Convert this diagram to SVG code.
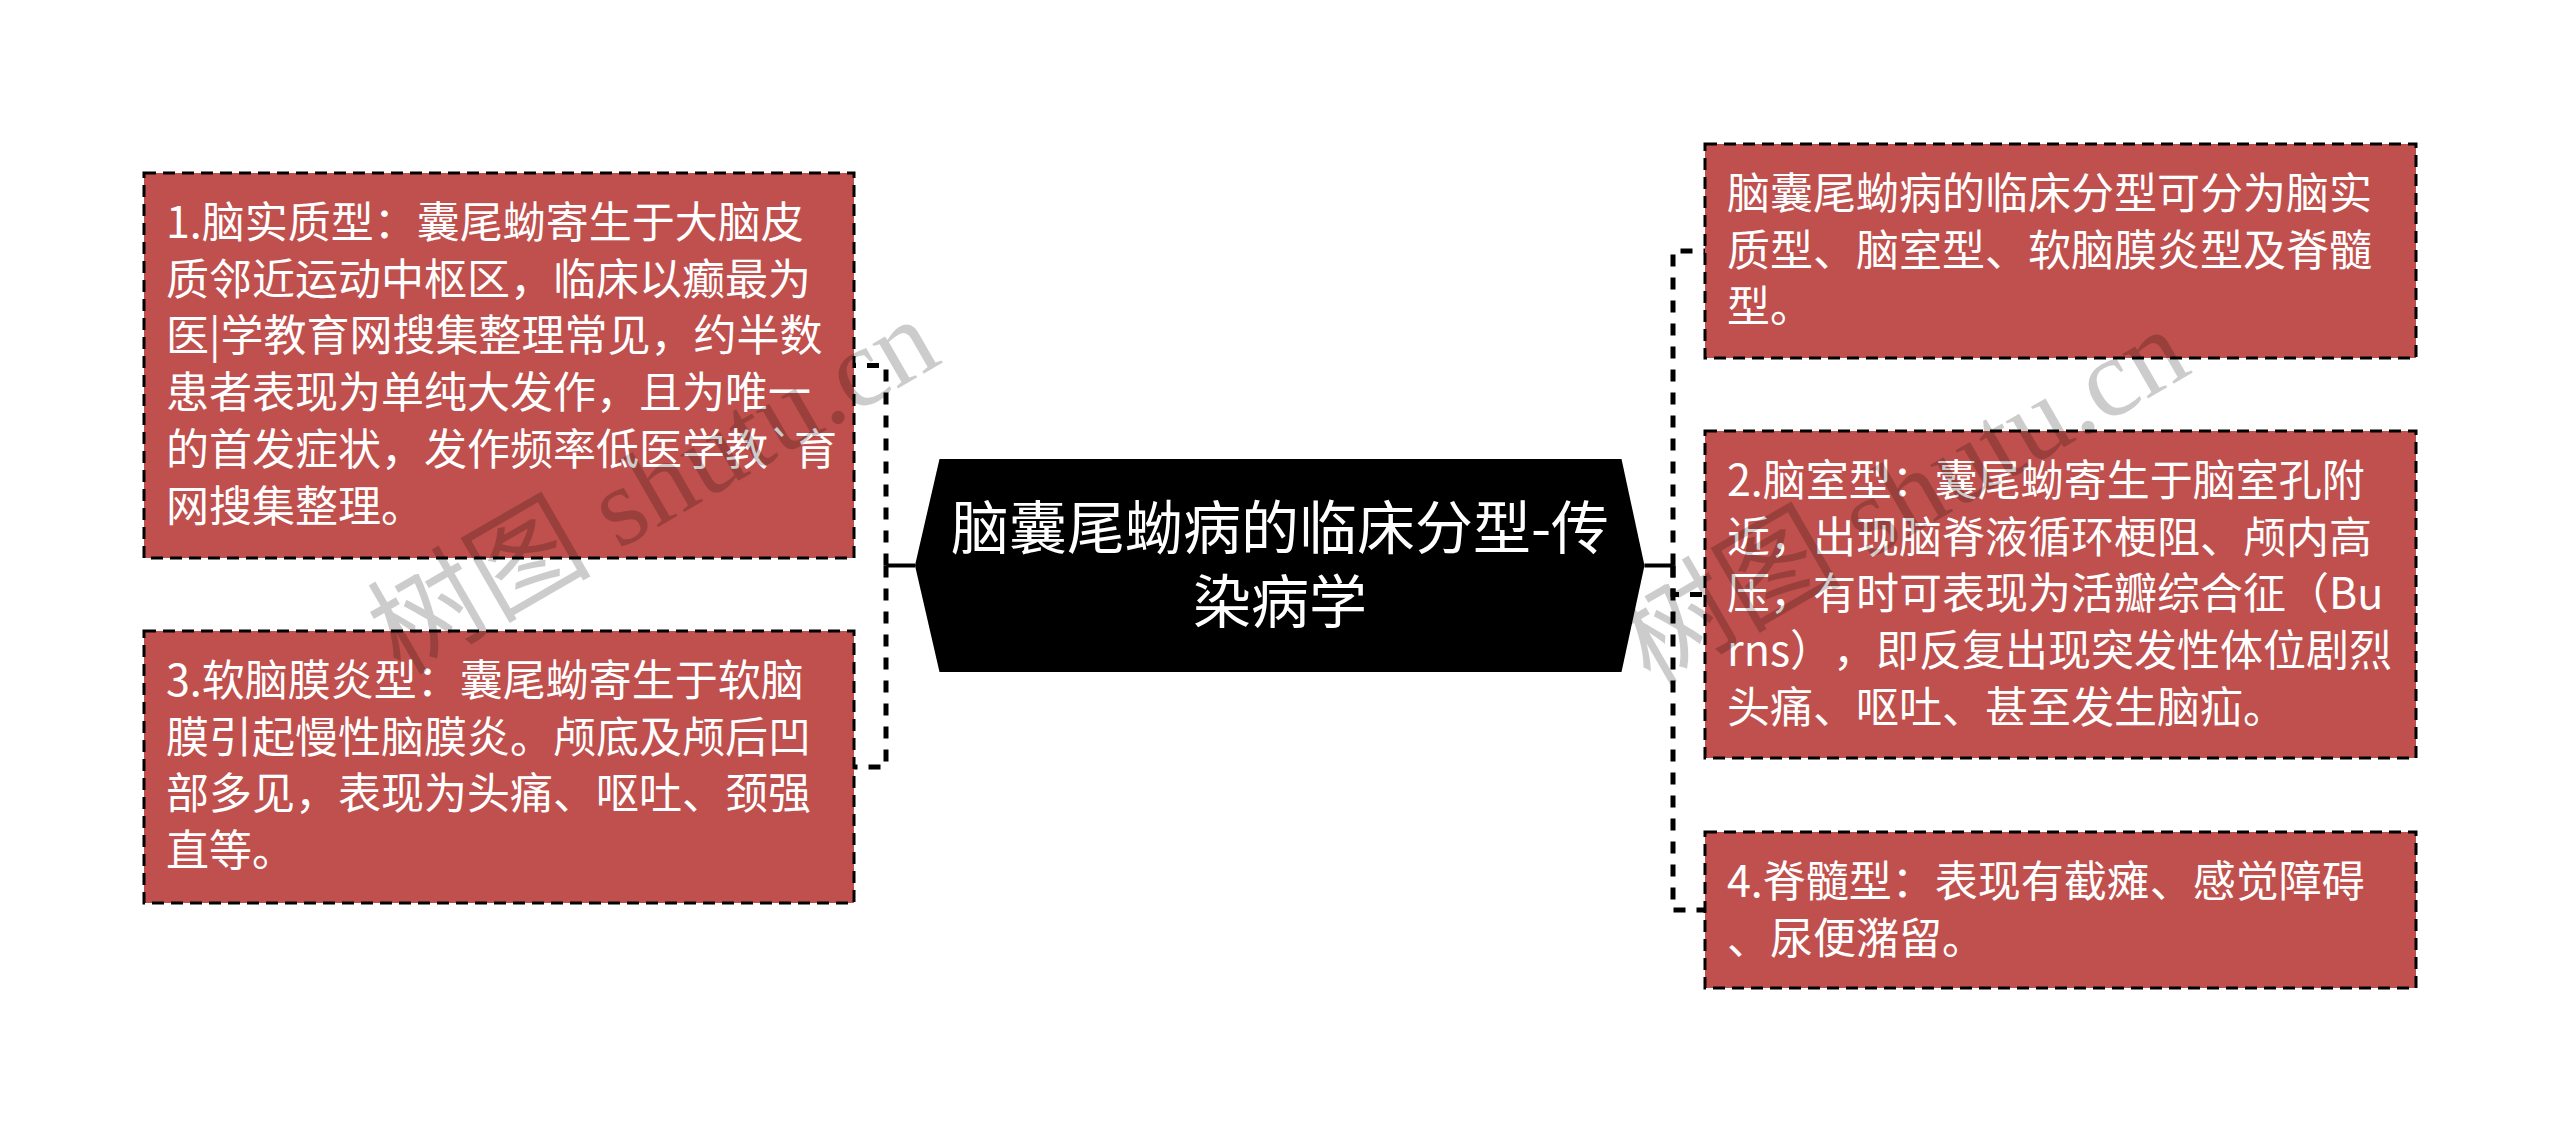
<svg xmlns="http://www.w3.org/2000/svg" width="2560" height="1132" viewBox="0 0 2560 1132">
<style>
.box{fill:#c0504d;stroke:#000;stroke-width:3;stroke-dasharray:12 7}
.bt{font-family:"Noto Sans CJK SC","Noto Sans",sans-serif;font-size:43px;fill:#fff;text-spacing-trim:space-all}
.ct{font-family:"Noto Sans CJK SC","Noto Sans",sans-serif;font-size:58px;fill:#fff;text-anchor:middle}
.dash{fill:none;stroke:#000;stroke-width:5;stroke-dasharray:12 11}
.solid{fill:none;stroke:#000;stroke-width:4}
.wm{font-family:"Liberation Serif","Noto Sans CJK SC",serif;font-size:112px;fill:#000;fill-opacity:0.2}
</style>
<rect width="2560" height="1132" fill="#fff"/>
<g id="connectors">
<path class="solid" d="M915 565.5H886"/>
<path class="dash" d="M886 565.5V365.5H854"/>
<path class="dash" d="M886 565.5V767H854"/>
<path class="solid" d="M1644.5 565.5H1673"/>
<path class="dash" d="M1673 565.5V251H1705"/>
<path class="dash" d="M1673 565.5V594.5H1705"/>
<path class="dash" d="M1673 565.5V910H1705"/>
</g>
<g id="center">
<polygon points="915,565.5 939.5,459 1621.5,459 1644.5,565.5 1621.5,672 939.5,672" fill="#000"/>
<text class="ct"><tspan x="1280" y="549">脑囊尾蚴病的临床分型-传</tspan><tspan x="1280" y="623">染病学</tspan></text>
</g>
<g id="node1">
<rect class="box" x="144" y="173" width="710" height="385"/>
<text class="bt"><tspan x="166" y="238">1.脑实质型：囊尾蚴寄生于大脑皮</tspan><tspan x="166" dy="56.7">质邻近运动中枢区，临床以癫最为</tspan><tspan x="166" dy="56.7">医|学教育网搜集整理常见，约半数</tspan><tspan x="166" dy="56.7">患者表现为单纯大发作，且为唯一</tspan><tspan x="166" dy="56.7">的首发症状，发作频率低医学教`育</tspan><tspan x="166" dy="56.7">网搜集整理。</tspan></text>
</g>
<g id="node3">
<rect class="box" x="144" y="631" width="710" height="272"/>
<text class="bt"><tspan x="166" y="696">3.软脑膜炎型：囊尾蚴寄生于软脑</tspan><tspan x="166" dy="56.7">膜引起慢性脑膜炎。颅底及颅后凹</tspan><tspan x="166" dy="56.7">部多见，表现为头痛、呕吐、颈强</tspan><tspan x="166" dy="56.7">直等。</tspan></text>
</g>
<g id="node0">
<rect class="box" x="1705" y="144" width="711" height="214"/>
<text class="bt"><tspan x="1727" y="209">脑囊尾蚴病的临床分型可分为脑实</tspan><tspan x="1727" dy="56.7">质型、脑室型、软脑膜炎型及脊髓</tspan><tspan x="1727" dy="56.7">型。</tspan></text>
</g>
<g id="node2">
<rect class="box" x="1705" y="431" width="711" height="327"/>
<text class="bt"><tspan x="1727" y="496">2.脑室型：囊尾蚴寄生于脑室孔附</tspan><tspan x="1727" dy="56.7">近，出现脑脊液循环梗阻、颅内高</tspan><tspan x="1727" dy="56.7">压，有时可表现为活瓣综合征（Bu</tspan><tspan x="1727" dy="56.7">rns），即反复出现突发性体位剧烈</tspan><tspan x="1727" dy="56.7">头痛、呕吐、甚至发生脑疝。</tspan></text>
</g>
<g id="node4">
<rect class="box" x="1705" y="832" width="711" height="156"/>
<text class="bt"><tspan x="1727" y="897">4.脊髓型：表现有截瘫、感觉障碍</tspan><tspan x="1727" dy="56.7">、尿便潴留。</tspan></text>
</g>
<g id="watermark">
<text class="wm" transform="translate(400,676) rotate(-30)">树图 shutu.cn</text>
<text class="wm" transform="translate(1650,686) rotate(-30)">树图 shutu.cn</text>
</g>
</svg>
